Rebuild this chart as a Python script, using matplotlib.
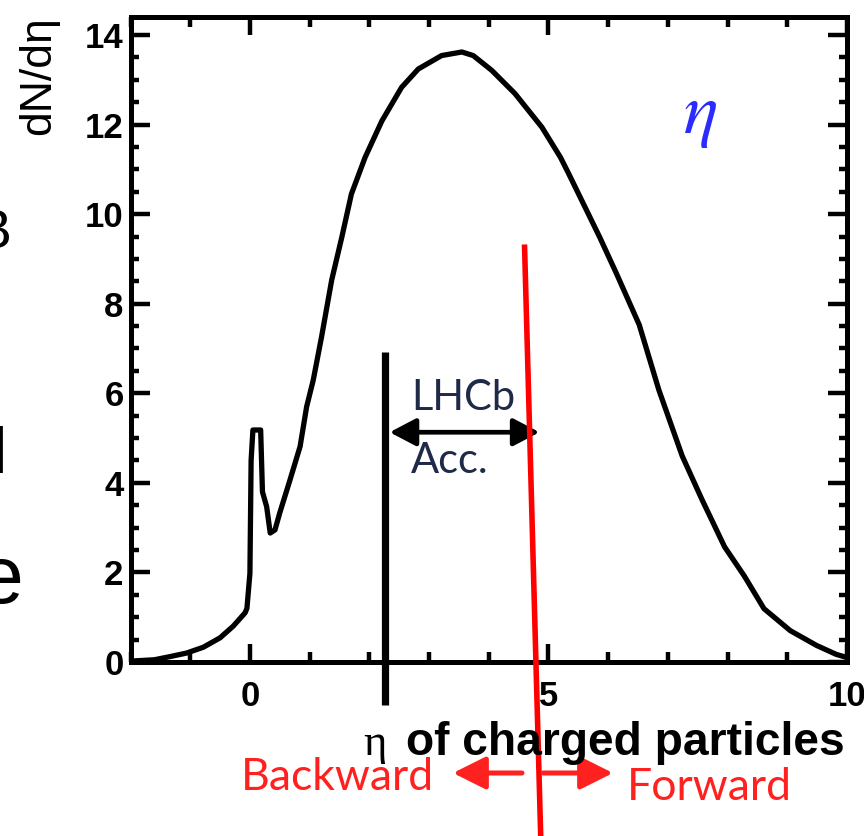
import matplotlib
matplotlib.use("Agg")
import matplotlib.pyplot as plt
from matplotlib.patches import FancyArrowPatch
from matplotlib.ticker import MultipleLocator

W, H = 864, 836

# Pseudorapidity distribution of charged particles
eta = [-2.0, -1.6, -1.34, -1.06, -0.78, -0.50, -0.28, -0.08, -0.05, 0.0, 0.02,
       0.05, 0.18, 0.21, 0.28, 0.34, 0.42, 0.50, 0.67, 0.84, 0.95, 1.06, 1.20,
       1.37, 1.54, 1.70, 1.93, 2.21, 2.54, 2.82, 3.21, 3.55, 3.74, 4.05, 4.44,
       4.89, 5.20, 5.34, 5.86, 6.14, 6.52, 6.85, 7.24, 7.57, 7.95, 8.28, 8.61,
       9.05, 9.49, 9.82, 10.0]
dndeta = [0.02, 0.05, 0.12, 0.20, 0.33, 0.54, 0.80, 1.10, 1.20, 1.98, 4.50,
          5.18, 5.18, 3.80, 3.47, 2.88, 2.95, 3.33, 4.06, 4.81, 5.70, 6.29, 7.26,
          8.53, 9.49, 10.45, 11.27, 12.08, 12.83, 13.24, 13.54, 13.62, 13.54,
          13.21, 12.69, 11.94, 11.27, 10.90, 9.48, 8.67, 7.53, 6.07, 4.60, 3.63,
          2.57, 1.92, 1.19, 0.70, 0.37, 0.17, 0.10]

xticks = [0, 5, 10]
yticks = [0, 2, 4, 6, 8, 10, 12, 14]

# LHCb acceptance window and forward/backward split
acc_edge = 2.26
acc_arrow = (2.34, 4.85, 5.13)
split_line = ((4.60, 9.26), (4.87, -3.88))

fig = plt.figure(figsize=(W / 100, H / 100), dpi=100)
ax = fig.add_axes([130.5 / W, 1 - 662 / H, (847 - 130.5) / W, (662 - 17.5) / H])

ax.plot(eta, dndeta, color="black", lw=3.8, solid_joinstyle="round", zorder=3)

ax.set_xlim(-2, 10)
ax.set_ylim(0, 14.39)
ax.set_xticks(xticks)
ax.set_yticks(yticks)
ax.xaxis.set_minor_locator(MultipleLocator(1))
ax.yaxis.set_minor_locator(MultipleLocator(0.5))
for s in ax.spines.values():
    s.set_linewidth(3.6)
ax.tick_params(which="both", direction="in", top=True, right=True, width=3.2,
               colors="black")
ax.tick_params(axis="x", which="major", length=13, pad=13)
ax.tick_params(axis="x", which="minor", length=7)
ax.tick_params(axis="y", which="major", length=14, pad=5)
ax.tick_params(axis="y", which="minor", length=6)
for lab in ax.get_xticklabels() + ax.get_yticklabels():
    lab.set_fontfamily("Liberation Sans")
    lab.set_fontweight("bold")
    lab.set_fontsize(25)


def fp(x, y):
    """figure-fraction position from pixel offsets measured from the top-left"""
    return x / W, 1 - y / H


# axis titles
fig.text(*fp(18, 16), "dN/d\u03b7", rotation=90, ha="left", va="top",
         family="Liberation Sans", fontsize=32)
fig.text(*fp(845, 755), "of charged particles", ha="right", va="baseline",
         family="Liberation Sans", fontweight="bold", fontsize=33.2)
fig.text(*fp(375, 755), "\u03b7", ha="center", va="baseline",
         family="Liberation Serif", fontsize=32)

# species label
fig.text(*fp(700, 116), r"$\eta$", ha="center", va="center", color="#2b2bff",
         fontsize=52, math_fontfamily="stix")

# acceptance markers
ax.plot([acc_edge, acc_edge], [6.92, -0.96], color="black", lw=5.2,
        solid_capstyle="butt", clip_on=False, zorder=4)
ax.annotate("", xy=(acc_arrow[0], acc_arrow[2]), xytext=(acc_arrow[1], acc_arrow[2]),
            xycoords="data",
            arrowprops=dict(arrowstyle="<|-|>,head_length=0.8,head_width=0.42",
                            mutation_scale=20, lw=3.4, color="black",
                            shrinkA=0, shrinkB=0), zorder=4)
(sx0, sy0), (sx1, sy1) = split_line
ax.plot([sx0, sx1], [sy0, sy1], color="#ff0000", lw=4.0, clip_on=False, zorder=5)

anno_font = "Lato"
fig.text(*fp(411, 410), "LHCb", ha="left", va="baseline", color="#1f2a48",
         family=anno_font, fontsize=30)
fig.text(*fp(411, 473), "Acc.", ha="left", va="baseline", color="#1f2a48",
         family=anno_font, fontsize=30)

red = "#ff2020"
fig.text(*fp(241, 790), "Backward", ha="left", va="baseline", color=red,
         family=anno_font, fontsize=32)
fig.text(*fp(627, 800), "Forward", ha="left", va="baseline", color=red,
         family=anno_font, fontsize=32)
for tail, tip in [((522, H - 773), (453, H - 773)), ((543, H - 773), (613, H - 773))]:
    fig.add_artist(FancyArrowPatch(
        tail, tip, transform=None,
        arrowstyle="-|>,head_length=1.0,head_width=0.5", mutation_scale=20,
        lw=3.6, color=red, shrinkA=0, shrinkB=0))

# fragments of neighbouring slide text at the left edge
fig.text(*fp(11, 248), "B", ha="right", va="baseline", family="Liberation Sans",
         fontsize=40)
fig.text(*fp(7, 473), "l", ha="right", va="baseline", family="Liberation Sans",
         fontsize=46)
fig.text(*fp(23, 603), "e", ha="right", va="baseline", family="Liberation Sans",
         fontsize=58)

fig.savefig("out.png", dpi=100)
